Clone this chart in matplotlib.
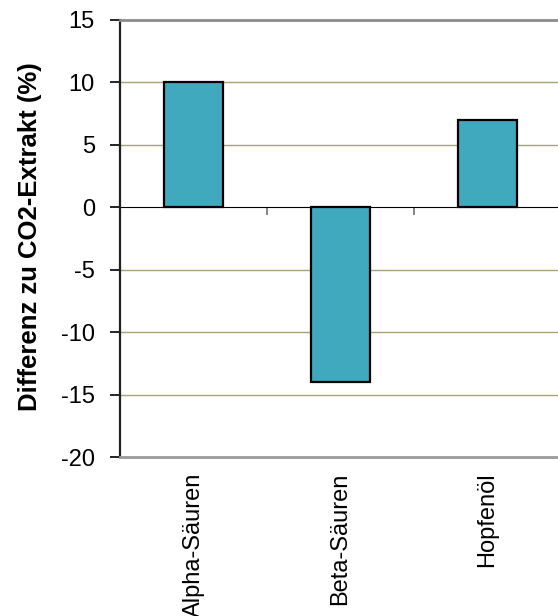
import matplotlib
matplotlib.use('Agg')
import matplotlib.pyplot as plt
import numpy as np

categories = ['Alpha-Säuren', 'Beta-Säuren', 'Hopfenöl']
differenz = [10, -14, 7]
y_ticks = [-20, -15, -10, -5, 0, 5, 10, 15]

plt.rcParams['font.family'] = ['Liberation Sans', 'DejaVu Sans']

fig = plt.figure(figsize=(5.58, 6.16), dpi=100)
ax = fig.add_axes([120 / 558, 159 / 616, 441 / 558, 437 / 616])

x = np.arange(len(categories))
ax.bar(x, differenz, width=0.4, color='#41A9BE', edgecolor='black',
       linewidth=1.6, zorder=3)

ax.set_xlim(-0.5, len(categories) - 0.5)
ax.set_ylim(y_ticks[0], y_ticks[-1])
ax.set_yticks(y_ticks)
ax.set_yticklabels([str(v) for v in y_ticks], fontsize=17)
for v in y_ticks[1:-1]:
    if v != 0:
        ax.axhline(v, color='#A3A37A', linewidth=1.0, zorder=1)

ax.set_xticks(x)
ax.set_xticklabels(categories, rotation=90, fontsize=17, va='top')
ax.tick_params(axis='x', length=0, pad=11)
ax.tick_params(axis='y', length=7, width=1.2, color='black', pad=11)

ax.spines['right'].set_visible(False)
ax.spines['top'].set_color('#8C8C8C')
ax.spines['top'].set_linewidth(2.0)
ax.spines['bottom'].set_color('#9A9A9A')
ax.spines['bottom'].set_linewidth(2.0)
ax.spines['left'].set_color('#202020')
ax.spines['left'].set_linewidth(1.6)

# zero line with category divider ticks hanging below it
frac0 = (0 - y_ticks[0]) / (y_ticks[-1] - y_ticks[0])
zax = ax.secondary_xaxis(frac0)
zax.set_xticks(x[:-1] + 0.5)
zax.set_xticklabels([])
zax.tick_params(axis='x', direction='in', length=6, width=1.2, color='#707070')
zax.spines['bottom'].set_color('black')
zax.spines['bottom'].set_linewidth(1.4)
zax.spines['bottom'].set_zorder(4)

ax.set_ylabel('Differenz zu CO2-Extrakt (%)', fontsize=18.5, fontweight='bold')
ax.yaxis.set_label_coords(-0.178, 0.505)

fig.savefig('out.png', dpi=100)
